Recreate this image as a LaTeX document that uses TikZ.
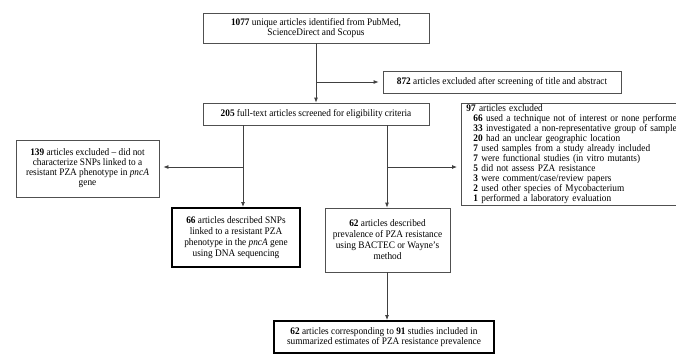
\documentclass[tikz,border=0pt]{standalone}
\usepackage{fontspec}
\setmainfont{Liberation Serif}[FakeStretch=0.93]
\usetikzlibrary{arrows.meta}
\definecolor{boxgray}{HTML}{505050}
\definecolor{linegray}{HTML}{404040}
\begin{document}
\begin{tikzpicture}[x=1pt,y=-1pt,
  every node/.style={font=\fontsize{10}{10.5}\selectfont, text=black},
  box/.style={draw=boxgray, line width=0.8pt, inner sep=0pt, align=center},
  thickbox/.style={box, draw=black, line width=2pt},
  conn/.style={draw=linegray, line width=0.8pt},
  arr/.style={conn, -{Latex[length=5pt,width=4pt]}},
  harr/.style={arr, shorten >=4pt},
]
\useasboundingbox (0,0) rectangle (676,354);
\clip (0,0) rectangle (676,354);

\node[box, minimum width=226pt, minimum height=30pt] (b1) at (316,28)
  {\textbf{1077} unique articles identified from PubMed,\\ ScienceDirect and Scopus};
\node[box, minimum width=238pt, minimum height=22pt] (b872) at (502,82)
  {\textbf{872} articles excluded after screening of title and abstract};
\node[box, minimum width=226pt, minimum height=22pt] (b2) at (316,114)
  {\textbf{205} full-text articles screened for eligibility criteria};
\node[box, anchor=north west, align=left, text width=255pt, minimum height=102pt, inner xsep=5pt,
  font=\fontsize{10}{10}\selectfont] (b97) at (461,103)
  {\textbf{97} articles excluded\\
   \hspace*{7pt}\textbf{66} used a technique not of interest or none performed\\
   \hspace*{7pt}\textbf{33} investigated a non-representative group of samples\\
   \hspace*{7pt}\textbf{20} had an unclear geographic location\\
   \hspace*{7pt}\textbf{7} used samples from a study already included\\
   \hspace*{7pt}\textbf{7} were functional studies (in vitro mutants)\\
   \hspace*{7pt}\textbf{5} did not assess PZA resistance\\
   \hspace*{7pt}\textbf{3} were comment/case/review papers\\
   \hspace*{7pt}\textbf{2} used other species of Mycobacterium\\
   \hspace*{7pt}\textbf{1} performed a laboratory evaluation};
\node[box, minimum width=143pt, minimum height=57pt, font=\fontsize{10}{10}\selectfont] (b139) at (87.5,168.5)
  {\textbf{139} articles excluded -- did not\\ characterize SNPs linked to a\\ resistant PZA phenotype in \textit{pncA}\\ gene};
\node[thickbox, minimum width=128pt, minimum height=59pt, font=\fontsize{10}{11}\selectfont] (b66) at (236,237.5)
  {\textbf{66} articles described SNPs\\ linked to a resistant PZA\\ phenotype in the \textit{pncA} gene\\ using DNA sequencing};
\node[box, minimum width=125pt, minimum height=64pt, font=\fontsize{10}{11}\selectfont] (b62) at (387.5,240)
  {\textbf{62} articles described\\ prevalence of PZA resistance\\ using BACTEC or Wayne's\\ method};
\node[thickbox, minimum width=220pt, minimum height=32pt] (bf) at (384,337)
  {\textbf{62} articles corresponding to \textbf{91} studies included in\\ summarized estimates of PZA resistance prevalence};

\coordinate (j1) at (316,82);
\coordinate (j2) at (243,167);
\coordinate (j3) at (387,167);

\draw[arr] (b1.south) -- (b2.north);
\draw[harr] (j1) -- (b872.west);
\draw[arr] (b2.south -| j2) -- (b66.north -| j2);
\draw[harr] (j2) -- (b139.east |- j2);
\draw[arr] (b2.south -| j3) -- (b62.north -| j3);
\draw[harr] (j3) -- (b97.west |- j3);
\draw[arr] (b62.south -| j3) -- (bf.north -| j3);
\end{tikzpicture}
\end{document}
